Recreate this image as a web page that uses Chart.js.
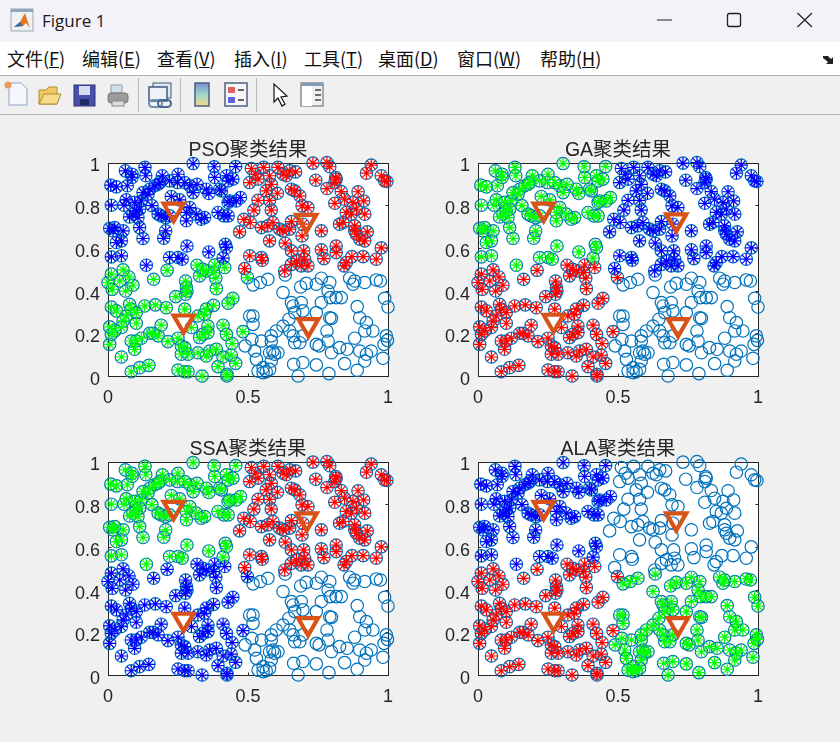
<!DOCTYPE html>
<html><head><meta charset="utf-8">
<script src="https://cdn.jsdelivr.net/npm/chart.js@4"></script>
<style>
html,body{margin:0;padding:0;background:#f0f0f0;width:840px;height:742px;overflow:hidden}
#titlebar{position:absolute;left:0;top:0;width:840px;height:42px;background:#f3f2f8}
#wintitle{position:absolute;left:42px;top:9px;font:17px/23px "Open Sans","Noto Sans",sans-serif;color:#1a1a1a}
#menubar{position:absolute;left:0;top:42px;width:840px;height:33px;background:#fff;border-bottom:1px solid #b4b4b4}
#menubar span{position:absolute;top:4px;font:18px/24px "Noto Sans CJK SC",sans-serif;color:#111;white-space:nowrap}
#toolbar{position:absolute;left:0;top:76px;width:840px;height:38px;background:#f0f0f0;border-bottom:1px solid #b4b4b4}
canvas{position:absolute}
svg{position:absolute;overflow:visible}
</style></head><body>
<div id="titlebar">
<svg style="left:10px;top:8px" width="24" height="24"><rect x="1" y="1" width="22" height="22" fill="#eef2f6" stroke="#9aa5b0"/><rect x="1" y="1" width="22" height="3" fill="#8fa5bd"/><path d="M4 19 L10 14 L15 5 L20 20 L16 15 L13 18 Z" fill="#e8741e"/><path d="M4 19 L10 14 L13 18 Z" fill="#2f6fb5"/></svg>
<div id="wintitle">Figure 1</div>
<svg style="left:0;top:0" width="840" height="42"><path d="M657 20H672" stroke="#222" stroke-width="1"/><rect x="727.5" y="13.5" width="13" height="13" rx="2" fill="none" stroke="#222" stroke-width="1.3"/><path d="M797.5 13L812 27M812 13L797.5 27" stroke="#222" stroke-width="1.2"/></svg>
</div>
<div id="menubar">
<span style="left:7px">文件(<u>F</u>)</span><span style="left:82px">编辑(<u>E</u>)</span><span style="left:157px">查看(<u>V</u>)</span><span style="left:234px">插入(<u>I</u>)</span><span style="left:304px">工具(<u>T</u>)</span><span style="left:378px">桌面(<u>D</u>)</span><span style="left:457px">窗口(<u>W</u>)</span><span style="left:540px">帮助(<u>H</u>)</span>
<svg style="left:822px;top:12px" width="14" height="12"><path d="M1 2L6 2L9 5L11 3L11 10L4 10L6 8L1 4Z" fill="#222"/></svg>
</div>
<div id="toolbar"><svg style="left:0;top:0" width="340" height="38">
<path d="M9 7H21L27 13V29H9Z" fill="#f4f8fd" stroke="#8ea6c8"/><circle cx="8" cy="9" r="3.5" fill="#f09a5a"/>
<path d="M39 14H46L49 11H57V28H39Z" fill="#f0c860" stroke="#b08a30"/><path d="M39 28L44 18H61L57 28Z" fill="#f7dc8a" stroke="#b08a30"/>
<rect x="74" y="9" width="21" height="21" fill="#4a4fae" stroke="#2e3278"/><rect x="79" y="10" width="11" height="9" fill="#d8dcf0"/><rect x="80" y="23" width="9" height="6" fill="#222a66"/>
<path d="M111 9H122V17H111Z" fill="#cfe0ea" stroke="#999"/><rect x="108" y="17" width="20" height="10" rx="3" fill="#9a9a9a" stroke="#777"/><rect x="112" y="25" width="12" height="5" fill="#ddd" stroke="#888"/>
<path d="M138.500 2V36M180.500 2V36M256.500 2V36" stroke="#b9b9b9"/>
<rect x="153" y="7" width="18" height="15" fill="#dfe7f0" stroke="#3f5a7d"/><rect x="149" y="11" width="18" height="14" fill="#eef2f7" stroke="#3f5a7d" stroke-width="1.500"/><rect x="149" y="24" width="13" height="7" rx="3.500" fill="none" stroke="#6f8fb5" stroke-width="2"/><rect x="158" y="24" width="13" height="7" rx="3.500" fill="none" stroke="#46678f" stroke-width="2"/>
<defs><linearGradient id="cb" x1="0" y1="0" x2="0" y2="1"><stop offset="0" stop-color="#7d8fd8"/><stop offset=".5" stop-color="#9fd8c8"/><stop offset="1" stop-color="#f6d88a"/></linearGradient></defs>
<rect x="195" y="7" width="14" height="23" fill="url(#cb)" stroke="#4c5f80" stroke-width="1.500"/>
<rect x="225" y="7" width="22" height="23" fill="#f6f6f6" stroke="#4c5f80" stroke-width="1.500"/><rect x="228" y="11" width="7" height="6" fill="#e06060"/><rect x="228" y="21" width="7" height="6" fill="#6060e0"/><path d="M238 14H244M238 24H244" stroke="#333" stroke-width="1.500"/>
<path d="M274 8V26L278 22L282 30L285 28L281 21L287 20Z" fill="#fff" stroke="#111" stroke-width="1.200"/>
<rect x="301" y="7" width="22" height="23" fill="#f0f0f0" stroke="#777" stroke-width="1.200"/><rect x="301" y="7" width="22" height="3" fill="#7f9bb5"/><rect x="302" y="10" width="10" height="20" fill="#fff"/><path d="M315 14H321M315 19H321M315 24H321" stroke="#444" stroke-width="1.500"/>
</svg></div>
<canvas id="c0" width="340" height="290" style="left:68px;top:129px"></canvas>
<canvas id="c1" width="340" height="290" style="left:438px;top:129px"></canvas>
<canvas id="c2" width="340" height="290" style="left:68px;top:428px"></canvas>
<canvas id="c3" width="340" height="290" style="left:438px;top:428px"></canvas>
<script>
const panelTitles = ["PSO聚类结果","GA聚类结果","SSA聚类结果","ALA聚类结果"];
const xTickValues = [0,0.5,1];
const yTickValues = [0,0.2,0.4,0.6,0.8,1];

const topLeftX = [.304,.379,.456,.062,.086,.132,.135,.010,.030,.069,.086,.194,.250,.220,.248,.274,.292,.318,.351,.360,.304,.405,.381,.423,.446,.429,.125,.149,.167,.179,.143,.185,.399,.473,.458,.435,.429,.012,.057,.065,.095,.119,.157,.226,.256,.393,.414,.429,.077,.089,.101,.113,.107,.113,.179,.190,.206,.220,.280,.280,.292,.315,.345,.333,.206,.199,.006,.024,.018,.054,.030,.048,.125,.012,.048,.137,.220,.250,.265,.282,.360,.419,.423,.411];
const topLeftY = [.995,.980,.981,.961,.945,.977,.938,.894,.886,.891,.930,.938,.945,.914,.906,.906,.891,.898,.875,.855,.859,.867,.930,.938,.922,.914,.859,.875,.891,.898,.852,.906,.875,.836,.820,.820,.813,.800,.800,.825,.813,.820,.798,.841,.825,.766,.750,.750,.745,.758,.773,.781,.742,.695,.758,.750,.742,.750,.727,.766,.789,.758,.742,.734,.680,.645,.692,.695,.680,.680,.625,.633,.644,.558,.563,.519,.555,.555,.547,.609,.581,.617,.602,.552];

const topRightX = [.512,.526,.556,.577,.607,.625,.649,.670,.637,.506,.536,.583,.605,.565,.655,.667,.685,.732,.782,.792,.742,.813,.815,.810,.782,.833,.810,.845,.875,.893,.913,.887,.851,.869,.917,.940,.923,.976,.988,.996,.536,.577,.521,.583,.693,.714,.485,.508,.548,.571,.589,.613,.625,.649,.655,.696,.693,.762,.470,.577,.633,.655,.699,.702,.673,.655,.690,.714,.631,.827,.839,.881,.881,.887,.899,.917,.926,.976,.958,.911,.871,.851,.843,.815,.815,.762,.771,.506,.548,.551,.488];
const topRightY = [.972,.945,.977,.938,.977,.945,.961,.956,.938,.906,.922,.898,.856,.867,.875,.867,.844,.997,1,.980,.917,.930,.922,.906,.878,.864,.809,.828,.813,.863,.820,.781,.766,.758,.758,.988,.950,.938,.914,.911,.823,.823,.777,.777,.797,.789,.734,.719,.695,.703,.719,.688,.680,.688,.723,.711,.656,.680,.675,.633,.622,.586,.586,.547,.539,.523,.516,.516,.492,.711,.719,.703,.680,.664,.641,.633,.675,.600,.547,.559,.559,.531,.516,.609,.578,.591,.550,.563,.555,.542,.503];

const bottomLeftX = [.012,.054,.075,.000,.015,.042,.063,.089,.163,.211,.318,.339,.351,.327,.381,.377,.417,.385,.387,.498,.277,.280,.282,.277,.242,.012,.030,.077,.083,.101,.131,.169,.208,.274,.351,.345,.321,.377,.446,.429,.065,.054,.048,.024,.006,.012,.006,.101,.190,.298,.357,.357,.327,.339,.411,.423,.443,.482,.149,.161,.179,.214,.250,.262,.274,.262,.286,.321,.351,.363,.387,.411,.440,.456,.393,.083,.101,.119,.095,.048,.083,.113,.146,.250,.274,.286,.336,.425,.425];
const bottomLeftY = [.477,.497,.464,.438,.406,.445,.398,.425,.453,.495,.519,.500,.492,.469,.520,.484,.508,.458,.409,.461,.445,.414,.398,.383,.372,.323,.305,.336,.313,.297,.328,.333,.320,.313,.313,.289,.281,.331,.364,.341,.281,.258,.227,.211,.230,.195,.148,.247,.238,.227,.234,.203,.180,.195,.238,.195,.152,.208,.200,.200,.188,.161,.177,.141,.133,.102,.102,.109,.094,.117,.125,.089,.098,.059,.044,.164,.164,.177,.125,.089,.020,.039,.050,.028,.020,.020,.000,.008,.000];

const bottomRightX = [.518,.544,.571,.625,.633,.688,.708,.744,.762,.792,.786,.815,.833,.794,.762,.744,.798,.655,.661,.690,.667,.696,.863,.881,.875,.917,.958,.973,.988,1,.890,.899,.923,.946,.917,.881,.994,.998,.986,.506,.518,.518,.646,.625,.601,.583,.649,.661,.667,.696,.685,.744,.754,.792,.782,.786,.798,.827,.854,.899,.923,.940,.917,.982,.845,.890,.789,.744,.696,.663,.679,.490,.514,.548,.583,.530,.589,.577,.595,.607,.554,.536,.554,.565,.577,.583,.524];
const bottomRightY = [.427,.438,.453,.391,.473,.417,.434,.430,.458,.438,.398,.367,.367,.367,.344,.297,.270,.344,.328,.344,.297,.305,.458,.445,.430,.438,.450,.445,.364,.323,.325,.273,.250,.211,.211,.177,.188,.167,.148,.281,.281,.242,.266,.234,.211,.188,.211,.188,.156,.188,.156,.148,.141,.273,.211,.164,.109,.133,.125,.117,.102,.117,.070,.083,.058,.027,.011,.052,.063,.055,.000,.141,.172,.164,.164,.078,.117,.109,.102,.109,.039,.023,.016,.020,.031,.070,.117];

const centroidX = [[.2345,.708,.270,.7155],[.2345,.708,.270,.7145],[.2345,.710,.270,.7145],[.2345,.708,.270,.7145]];
const centroidY = [[.780,.728,.2565,.239],[.780,.730,.260,.239],[.784,.730,.260,.239],[.784,.730,.260,.239]];

// star colours per panel, in the order top-left, top-right, bottom-left, bottom-right (null = circle only)
const starColours = [
  ["#0000FF","#FF0000","#00FF00",null],
  ["#00FF00","#0000FF","#FF0000",null],
  ["#00FF00","#FF0000","#0000FF",null],
  ["#0000FF",null,"#FF0000","#00FF00"]
];
const circleColour = "#0072BD", centroidColour = "#D95319", axisColour = "#262626";

const clusterXs = [topLeftX,topRightX,bottomLeftX,bottomRightX];
const clusterYs = [topLeftY,topRightY,bottomLeftY,bottomRightY];
const zip = (xs,ys) => xs.map((x,i)=>({x,y:ys[i]}));
const allPoints = clusterXs.flatMap((xs,i)=>zip(xs,clusterYs[i]));

const boxPlugin = {id:"box",beforeDatasetsDraw(chart){
  const {ctx,chartArea:a,scales:{x,y}} = chart;
  ctx.save();ctx.strokeStyle=axisColour;ctx.lineWidth=1;
  const L=Math.round(a.left)+.5,R=Math.round(a.right)+.5,T=Math.round(a.top)+.5,B=Math.round(a.bottom)+.5;
  ctx.fillStyle="#fff";ctx.fillRect(L,T,R-L,B-T);
  ctx.strokeRect(L,T,R-L,B-T);
  ctx.beginPath();
  xTickValues.forEach(v=>{const p=Math.round(x.getPixelForValue(v))+.5;ctx.moveTo(p,B);ctx.lineTo(p,B-3);ctx.moveTo(p,T);ctx.lineTo(p,T+3);});
  yTickValues.forEach(v=>{const p=Math.round(y.getPixelForValue(v))+.5;ctx.moveTo(L,p);ctx.lineTo(L+3,p);ctx.moveTo(R,p);ctx.lineTo(R-3,p);});
  ctx.stroke();ctx.restore();
}};

panelTitles.forEach((title,k)=>{
  // Chart.js paints higher "order" first, so circles go underneath, then stars, then the centroid triangles.
  const datasets = [{order:2,data:allPoints,pointStyle:"circle",pointRadius:6.2,pointBorderWidth:1.2,pointBorderColor:circleColour,pointBackgroundColor:"transparent",showLine:false,clip:false}];
  starColours[k].forEach((col,i)=>{ if(col) datasets.push({order:1,data:zip(clusterXs[i],clusterYs[i]),pointStyle:"star",pointRadius:6.2,pointBorderWidth:1.2,pointBorderColor:col,pointBackgroundColor:col,showLine:false,clip:false}); });
  datasets.push({order:0,data:zip(centroidX[k],centroidY[k]),pointStyle:"triangle",pointRotation:180,pointRadius:11.5,pointBorderWidth:4.2,pointBorderColor:centroidColour,pointBackgroundColor:"transparent",showLine:false,clip:false});
  new Chart(document.getElementById("c"+k),{
    type:"scatter",
    data:{datasets},
    plugins:[boxPlugin],
    options:{
      responsive:false,animation:false,devicePixelRatio:1,
      layout:{padding:{left:0,right:20,top:12,bottom:0}},
      plugins:{legend:{display:false},tooltip:{enabled:false},
        title:{display:true,fullSize:false,text:title,color:axisColour,padding:{top:0,bottom:2},
          font:{family:'"Liberation Sans","Noto Sans CJK SC",sans-serif',size:19.5,weight:"normal",lineHeight:1}}},
      scales:{
        x:{type:"linear",min:0,max:1,grid:{display:false},border:{display:false},
          afterBuildTicks:s=>{s.ticks=xTickValues.map(value=>({value}));},
          afterFit:s=>{s.height=43;},
          ticks:{autoSkip:false,maxRotation:0,padding:3,color:axisColour,font:{family:'"Liberation Sans",sans-serif',size:18},callback:v=>String(v)}},
        y:{type:"linear",min:0,max:1,grid:{display:false},border:{display:false},
          afterBuildTicks:s=>{s.ticks=yTickValues.map(value=>({value}));},
          afterFit:s=>{s.width=40;},
          ticks:{autoSkip:false,crossAlign:"near",align:"center",padding:0,labelOffset:4,color:axisColour,font:{family:'"Liberation Sans",sans-serif',size:18},callback:v=>String(v)}}
      }
    }
  });
});
</script>
</body></html>
